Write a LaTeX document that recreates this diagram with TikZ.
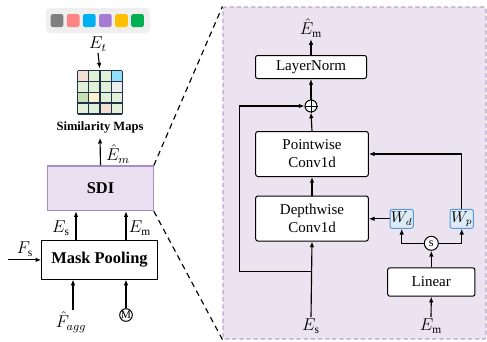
\documentclass[tikz,border=0pt]{standalone}
\usepackage{fontspec}
\setmainfont{Liberation Serif}
\usepackage{amsmath}
\usetikzlibrary{arrows.meta}
\definecolor{panelfill}{HTML}{EBE3F0}
\definecolor{paneldash}{HTML}{B8A6CB}
\definecolor{sdifill}{HTML}{E8DFF0}
\definecolor{sdidraw}{HTML}{A98BC6}
\definecolor{wfill}{HTML}{DDEBF7}
\definecolor{wdraw}{HTML}{5B9BD5}
\definecolor{palbg}{HTML}{EFEFEF}
\definecolor{cgray}{HTML}{808080}
\definecolor{cpink}{HTML}{FF8585}
\definecolor{cblue}{HTML}{00B0F0}
\definecolor{cpurple}{HTML}{A67BD4}
\definecolor{cyellow}{HTML}{FFC000}
\definecolor{cgreen}{HTML}{00B050}
\definecolor{gpink}{HTML}{F4DED4}
\definecolor{glgreen}{HTML}{E2EFD9}
\definecolor{gblue}{HTML}{92DDF9}
\definecolor{ggray}{HTML}{EEEEEE}
\definecolor{gmid}{HTML}{C5E0B4}
\definecolor{gyel}{HTML}{FFF2CC}
\definecolor{gline}{HTML}{1F3347}

\begin{document}
\begin{tikzpicture}[x=0.7pt,y=-0.7pt,font=\fontsize{10.5}{12.5}\selectfont,
  box/.style={draw,rounded corners=1.5pt,fill=white,line width=0.7pt,inner sep=0pt,align=center},
  boldbox/.style={draw,fill=white,line width=0.7pt,inner sep=0pt,font=\fontsize{11.5}{13}\selectfont\bfseries},
  wbox/.style={draw=wdraw,fill=wfill,rounded corners=1.5pt,line width=0.7pt,inner sep=0pt,minimum width=16.3pt,minimum height=13.3pt},
  lbl/.style={inner sep=1pt,font=\fontsize{12}{13}\selectfont},
  arr/.style={-{Latex[length=4pt,width=3.2pt]},line width=0.8pt},
  zoomline/.style={dashed,dash pattern=on 4pt off 3pt,line width=0.8pt}]
\useasboundingbox (0,0) rectangle (487,341);

% zoomed panel
\node[draw=paneldash,fill=panelfill,dashed,dash pattern=on 3pt off 2pt,line width=0.8pt,rounded corners=1.5pt,minimum width=184.1pt,minimum height=232.4pt] (panel) at (354.5,173) {};

% left branch
\fill[palbg,rounded corners=3pt] (46,8) rectangle (150,33);
\foreach \c [count=\i from 0] in {cgray,cpink,cblue,cpurple,cyellow,cgreen}
  \fill[\c,rounded corners=1.5pt] ({50.7+16.1*\i},14) rectangle ++(12.7,13);
\node[lbl] (et) at (98,44) {$E_t$};
\coordinate (maptop) at (100,70.7);
\foreach \c [count=\i from 0] in {gpink,glgreen,glgreen,gblue,glgreen,glgreen,glgreen,ggray,gmid,gyel,glgreen,glgreen,glgreen,glgreen,gpink,glgreen}
  \fill[\c] ({77.7+11.15*mod(\i,4)},{70.7+10.8*int(\i/4)}) rectangle ++(11.15,10.8);
\foreach \k in {0,...,4} {
  \draw[gline,line width=0.9pt] ({77.7+11.15*\k},70.7) -- ++(0,43.2);
  \draw[gline,line width=0.9pt] (77.7,{70.7+10.8*\k}) -- ++(44.6,0);
}
\node[font=\fontsize{8.8}{10}\selectfont\bfseries] (simlbl) at (100,127) {Similarity Maps};
\node[draw=sdidraw,fill=sdifill,line width=0.8pt,minimum width=73.9pt,minimum height=31.3pt,font=\fontsize{11.5}{13}\selectfont\bfseries] (sdi) at (100.5,188.3) {SDI};
\node[boldbox,minimum width=80.9pt,minimum height=26.8pt] (pool) at (99.5,259.9) {Mask Pooling};
\node[lbl] (emhat) at (118,154) {$\hat{E}_m$};
\node[lbl] (es1) at (61,228) {$E_\mathrm{s}$};
\node[lbl] (em1) at (140,228) {$E_\mathrm{m}$};
\node[lbl] (fs) at (25,249) {$F_\mathrm{s}$};
\node[lbl] (fagg) at (71,322) {$\hat{F}_{agg}$};
\node[circle,draw,line width=0.7pt,minimum size=8.8pt,inner sep=0pt,font=\fontsize{8}{9}\selectfont] (mask) at (126,315) {M};
\coordinate (esx) at (76,0);
\coordinate (emx) at (126,0);
\coordinate (fx) at (73,0);
\coordinate (fsin) at (8,259.9);

\draw[arr,shorten >=1.5pt] (et.south) -- (maptop);
\draw[arr] (sdi.north) -- (simlbl.south);
\draw[arr] (pool.north -| esx) -- (sdi.south -| esx);
\draw[arr] (pool.north -| emx) -- (sdi.south -| emx);
\draw[arr] (fsin) -- (pool.west);
\draw[arr] (fagg.north -| fx) -- (pool.south -| fx);
\draw[arr] (mask.north) -- (pool.south -| mask);

\draw[zoomline] (sdi.north east) -- (panel.north west);
\draw[zoomline] (sdi.south east) -- (panel.south west);

% SDI detail
\node[lbl] (emo) at (311,28) {$\hat{E}_\mathrm{m}$};
\node[box,minimum width=77.7pt,minimum height=16.1pt] (norm) at (311,67) {LayerNorm};
\node[circle,draw,fill=white,line width=0.7pt,minimum size=8.4pt,inner sep=0pt] (add) at (311,106) {};
\draw[line width=0.7pt] (add.north) -- (add.south) (add.west) -- (add.east);
\node[box,minimum width=78.8pt,minimum height=31.5pt] (pw) at (312,154) {Pointwise\\Conv1d};
\node[box,minimum width=78.8pt,minimum height=31.5pt] (dw) at (312,218.5) {Depthwise\\Conv1d};
\node[wbox] (wd) at (401.7,218.8) {$W_d$};
\node[wbox] (wp) at (461.7,218.8) {$W_p$};
\node[circle,draw,fill=white,line width=0.7pt,minimum size=9.8pt,inner sep=0pt,font=\fontsize{8.5}{9}\selectfont] (sel) at (431.3,243.3) {s};
\node[box,minimum width=61.1pt,minimum height=19.8pt] (lin) at (431.3,282) {Linear};
\node[lbl] (es2) at (311,326) {$E_\mathrm{s}$};
\node[lbl] (em2) at (431,326) {$E_\mathrm{m}$};
\coordinate (split) at (311.7,271.7);

\draw[arr] (norm.north) -- (emo.south);
\draw[arr] (add.north) -- (norm.south);
\draw[arr] (pw.north) -- (add.south);
\draw[arr] (dw.north) -- (pw.south);
\draw[arr] (es2.north) -- (dw.south);
\draw[arr] (split) -- ++(-72.4,0) |- (add.west);
\draw[arr] (wd.west) -- (wd.west -| dw.east);
\draw[arr] (sel.west) -| (wd.south);
\draw[arr] (sel.east) -| (wp.south);
\draw[arr] (lin.north) -- (sel.south);
\draw[arr] (em2.north) -- (lin.south);
\draw[arr] (wp.north) |- (pw.east);
\end{tikzpicture}
\end{document}
